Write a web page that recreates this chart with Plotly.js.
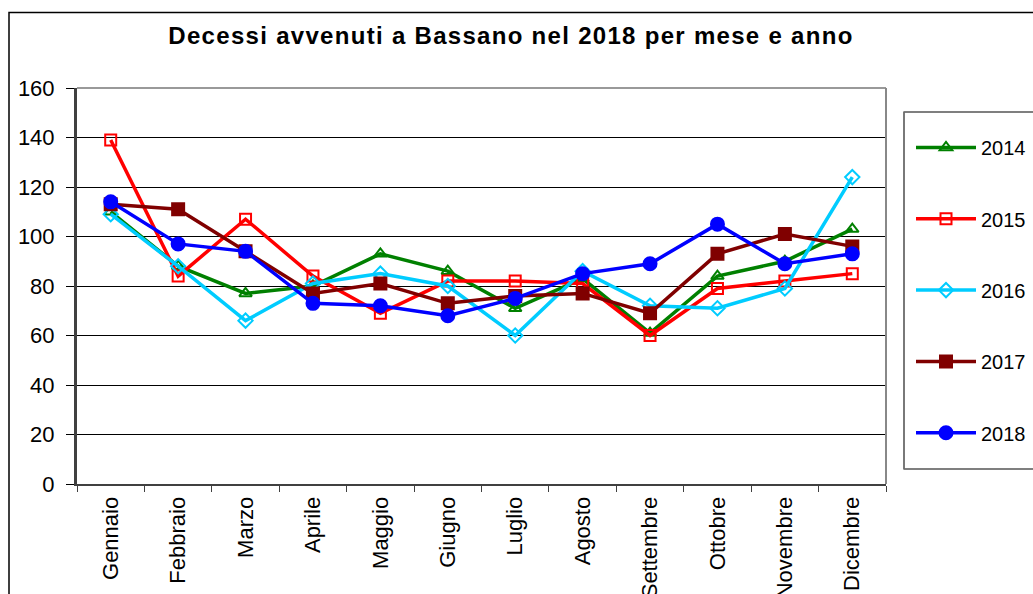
<!DOCTYPE html>
<html>
<head>
<meta charset="utf-8">
<script src="https://cdn.plot.ly/plotly-3.0.1.min.js"></script>
<style>html,body{margin:0;padding:0;background:#fff;}#chart{width:1033px;height:594px;}
.gtitle{letter-spacing:1.3px;}</style>
</head>
<body>
<div id="chart"></div>
<script>
const months = ["Gennaio","Febbraio","Marzo","Aprile","Maggio","Giugno","Luglio","Agosto","Settembre","Ottobre","Novembre","Dicembre"];
const y2014 = [110, 88, 77, 80, 93, 86, 71, 83, 61, 84, 90, 103];
const y2015 = [139, 84, 107, 84, 69, 82, 82, 81, 60, 79, 82, 85];
const y2016 = [109, 88, 66, 81, 85, 80, 60, 86, 72, 71, 79, 124];
const y2017 = [113, 111, 94, 77, 81, 73, 76, 77, 69, 93, 101, 96];
const y2018 = [114, 97, 94, 73, 72, 68, 75, 85, 89, 105, 89, 93];
const seriesNames = ["2014","2015","2016","2017","2018"];
const seriesData = [y2014, y2015, y2016, y2017, y2018];
const colors = ["#008000","#FF0000","#00CCFF","#800000","#0000FF"];
const symbols = ["triangle-up-open","square-open","diamond-open","square","circle"];
const sizes = [11, 11, 11, 12, 13];

const FONT = "Liberation Sans, Arial, sans-serif";
const traces = seriesNames.map((n, i) => ({
  type: "scatter", mode: "lines+markers", name: n,
  x: months, y: seriesData[i], legendgroup: n,
  line: {color: colors[i], width: 3.5},
  marker: {symbol: symbols[i], size: sizes[i], color: colors[i], line: {color: colors[i], width: 2}}
}));

const L = 77, R = 886, T = 88, B = 484;
const pw = R - L, ph = B - T;
const px = v => (v - L) / pw, py = v => (B - v) / ph;

const layout = {
  width: 1033, height: 594,
  margin: {l: L, r: 1033 - R, t: T, b: 594 - B, pad: 0},
  paper_bgcolor: "#fff", plot_bgcolor: "#fff",
  font: {family: FONT, color: "#000", size: 20},
  title: {text: "<b>Decessi avvenuti a Bassano nel 2018 per mese e anno</b>", font: {family: FONT, size: 24, color: "#000"},
    xref: "container", x: 511/1033, xanchor: "center", yref: "container", y: 1 - 36/594, yanchor: "middle"},
  xaxis: {type: "category", showgrid: false, showline: true, linecolor: "#404040", linewidth: 2,
    ticks: "outside", ticklen: 6, tickcolor: "#404040", tickwidth: 1, tickson: "boundaries",
    tickangle: -90, tickfont: {family: FONT, size: 22}, ticklabelstandoff: 2, range: [-0.5, 11.5], fixedrange: true},
  yaxis: {range: [0, 160], dtick: 20, showgrid: true, gridcolor: "#000", gridwidth: 1,
    showline: true, linecolor: "#404040", linewidth: 3, ticks: "outside", ticklen: 8, tickcolor: "#000",
    tickfont: {family: FONT, size: 22}, ticklabelstandoff: 7, zeroline: false, fixedrange: true},
  legend: {xref: "container", yref: "container", x: 911/1033, y: 1 - 128/594, xanchor: "left", yanchor: "top",
    borderwidth: 0, bgcolor: "rgba(0,0,0,0)", font: {family: FONT, size: 20}, tracegroupgap: 42.3, itemwidth: 60,
    maxheight: 594},
  shapes: [
    {type: "line", xref: "paper", yref: "paper", x0: 0, x1: 1, y0: 1, y1: 1, line: {color: "#999", width: 2}, layer: "above"},
    {type: "line", xref: "paper", yref: "paper", x0: 1, x1: 1, y0: 0, y1: 1, line: {color: "#888", width: 2}, layer: "above"},
    {type: "rect", xref: "paper", yref: "paper", x0: px(9), x1: px(1040), y0: py(600), y1: py(12.5), line: {color: "#000", width: 1.5}, layer: "below"},
    {type: "rect", xref: "paper", yref: "paper", x0: px(904), x1: px(1045), y0: py(469), y1: py(112), line: {color: "#000", width: 1.2}, layer: "below"},
    {type: "line", xref: "paper", yref: "paper", x0: px(904), x1: px(904), y0: py(469), y1: py(112), line: {color: "#808080", width: 1.5}, layer: "below"}
  ],
  showlegend: true
};
Plotly.newPlot("chart", traces, layout, {displayModeBar: false, staticPlot: true});
</script>
</body>
</html>
